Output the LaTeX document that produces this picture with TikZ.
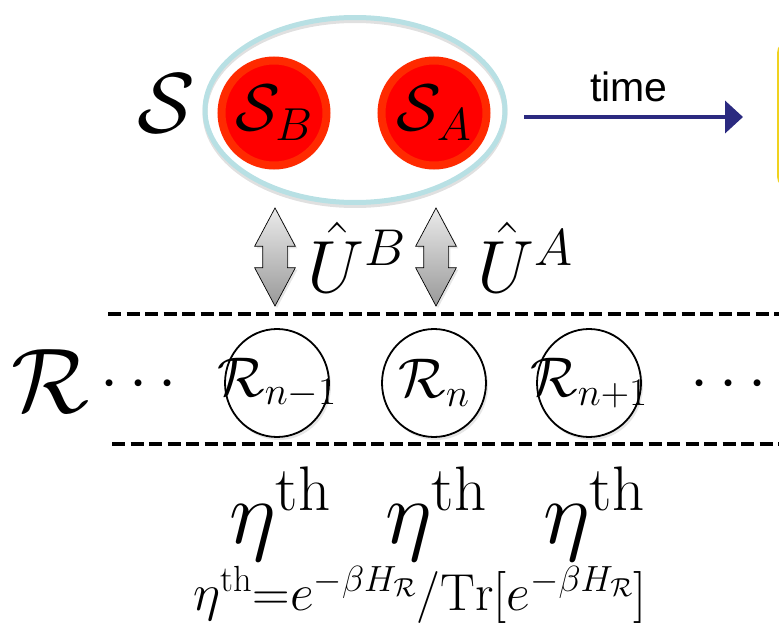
\documentclass[tikz,border=0pt]{standalone}
\usepackage{fix-cm}
\usepackage{amsmath}
\usepackage{fontspec}
\newfontfamily\timefont{Liberation Sans}
\usetikzlibrary{arrows.meta, positioning, shapes.geometric, shapes.arrows, shadows}
\definecolor{shellblue}{RGB}{184,224,228}
\definecolor{sysred}{RGB}{255,0,0}
\definecolor{sysring}{RGB}{255,42,0}
\definecolor{timeblue}{RGB}{43,42,128}
\definecolor{boxyellow}{RGB}{240,210,30}
\tikzset{
    bigcal/.style={
        inner sep=0pt, font=\fontsize{#1}{#1}\selectfont
    },
    sysshell/.style={
        ellipse, draw=shellblue, line width=5pt,
        minimum width=300pt, minimum height=185pt,
        preaction={draw=black!12, line width=5pt, transform canvas={yshift=-3pt}}
    },
    subsys/.style={
        circle, draw=sysring, fill=sysred, line width=8pt,
        minimum size=105pt, inner sep=0pt,
        font=\fontsize{66}{66}\selectfont,
        drop shadow={opacity=0.2, shadow xshift=1pt, shadow yshift=-4pt}
    },
    timearrow/.style={-{Triangle[length=18pt, width=32pt]}, line width=4pt, draw=timeblue, fill=timeblue},
    timelabel/.style={font=\timefont\fontsize{41}{41}\selectfont, inner sep=0pt},
    nextbox/.style={
        rectangle, rounded corners=12pt, draw=boxyellow, fill=yellow!6,
        line width=2.5pt, minimum width=63pt, minimum height=147pt
    },
    dblarrow/.style={
        double arrow, shape border rotate=90, draw=black, line width=0.7pt,
        top color=black!8, bottom color=black!40,
        minimum height=98pt, text width=24pt, inner sep=0pt,
        double arrow head extend=8pt, double arrow tip angle=56,
        drop shadow={opacity=0.2, shadow xshift=2pt, shadow yshift=-2pt}
    },
    ulabel/.style={font=\fontsize{74}{74}\selectfont, inner sep=0pt},
    resline/.style={line width=4pt, dash pattern=on 13pt off 5.5pt},
    dotsrow/.style={font=\fontsize{65}{65}\selectfont, inner sep=0pt},
    rcell/.style={
        ellipse, draw=black, fill=white, line width=1.8pt,
        minimum width=104pt, minimum height=108pt, inner sep=0pt,
        font=\fontsize{56}{56}\selectfont,
        drop shadow={opacity=0.2, shadow xshift=2pt, shadow yshift=-3pt}
    },
    therm/.style={font=\fontsize{90}{90}\selectfont, inner sep=0pt},
    gibbs/.style={font=\fontsize{52}{52}\selectfont, inner sep=0pt}
}
\begin{document}
\begin{tikzpicture}[x=1pt, y=-1pt]
    \useasboundingbox (0,0) rectangle (779,626);

    % system S = S_B + S_A
    \node[bigcal=85] (Slab) at (166,103) {$\mathcal{S}$};
    \node[sysshell] (sys) at (355,110) {};
    \node[subsys] (SB) at (274,113) {$\mathcal{S}_B$};
    \node[subsys] (SA) at (434,113) {$\mathcal{S}_A$};

    % time arrow
    \coordinate (t0) at (524,117);
    \coordinate (t1) at (743,117);
    \draw[timearrow] (t0) -- (t1);
    \node[timelabel, anchor=base] (time) at (629,101) {time};
    \node[nextbox, anchor=north west] (next) at (777,40) {};

    % couplings
    \node[dblarrow] (uB) at (275,257) {};
    \node[dblarrow] (uA) at (436,257) {};
    \node[ulabel, anchor=base west] (UB) at (307,292) {$\hat{U}^B$};
    \node[ulabel, anchor=base west] (UA) at (477,292) {$\hat{U}^A$};

    % reservoir
    \draw[resline] (108,314) -- (779,314);
    \draw[resline] (112,444) -- (779,444);
    \node[bigcal=92] (Rlab) at (50,381) {$\mathcal{R}$};
    \node[dotsrow, anchor=base] (ldots) at (144,399) {$\cdots$};
    \node[rcell] (Rm) at (277,383) {\makebox[0pt]{$\mathcal{R}_{n-1}$}};
    \node[rcell] (Rn) at (434,383) {\makebox[0pt]{$\mathcal{R}_n$}};
    \node[rcell] (Rp) at (589,383) {\makebox[0pt]{$\mathcal{R}_{n+1}$}};
    \node[dotsrow, anchor=base] (rdots) at (734,399) {$\cdots$};

    % thermal states
    \foreach \x/\nm in {280/em, 436/en, 594/ep}
        \node[therm, anchor=base] (\nm) at (\x,543) {$\eta^{\mathrm{th}}$};
    \node[gibbs, anchor=base] (eq) at (420,610)
        {$\eta^{\mathrm{th}}{=}e^{-\beta H_{\mathcal{R}}}/\mathrm{Tr}[e^{-\beta H_{\mathcal{R}}}]$};
\end{tikzpicture}
\end{document}
